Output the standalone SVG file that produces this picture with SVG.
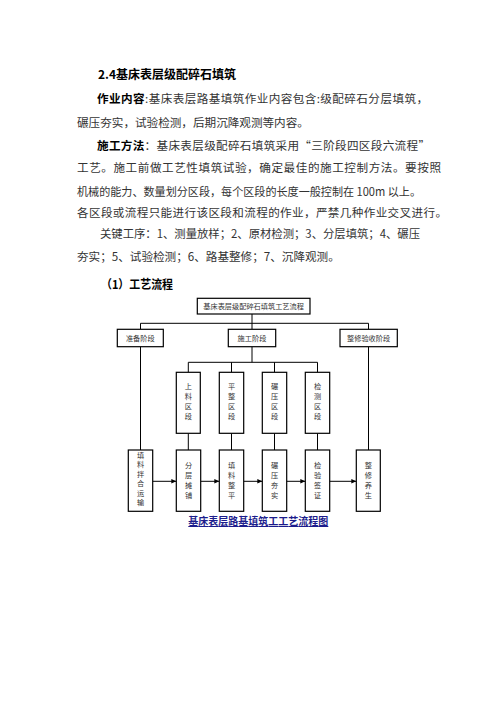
<svg xmlns="http://www.w3.org/2000/svg" width="496" height="702" viewBox="0 0 496 702">
<style>
.body{font-family:"Noto Sans CJK SC","Liberation Serif",serif;font-size:11.6px;fill:#333}
.b{font-weight:bold;fill:#000}
.h{font-family:"Noto Sans CJK SC","Liberation Sans",sans-serif;font-weight:bold;font-size:12px;fill:#000}
.box{fill:#fff;stroke:#000;stroke-width:1.2}
.lbl{font-family:"Noto Sans CJK SC","Liberation Sans",sans-serif;font-size:7.2px;fill:#333;text-anchor:middle}
.conn line{stroke:#000;stroke-width:1}
.cap{font-family:"Noto Sans CJK SC","Liberation Sans",sans-serif;font-size:10px;font-weight:bold;fill:#1c1c8c;text-decoration:underline}
</style>
<defs>
<marker id="ah" markerWidth="6" markerHeight="6" refX="5" refY="3" orient="auto" markerUnits="userSpaceOnUse">
<path d="M0,0.8 L5,3 L0,5.2 Z" fill="#000"/>
</marker>
</defs>
<rect width="496" height="702" fill="#fff"/>
<g id="text">
<text class="h" x="98" y="79">2.4基床表层级配碎石填筑</text>
<text class="body" x="97" y="103" textLength="331" lengthAdjust="spacing"><tspan class="b">作业内容</tspan>:基床表层路基填筑作业内容包含:级配碎石分层填筑，</text>
<text class="body" x="77" y="126.5">碾压夯实，试验检测，后期沉降观测等内容。</text>
<text class="body" x="97" y="150" textLength="333" lengthAdjust="spacing"><tspan class="b">施工方法</tspan>：基床表层级配碎石填筑采用“三阶段四区段六流程”</text>
<text class="body" x="77" y="172" textLength="364" lengthAdjust="spacing">工艺。施工前做工艺性填筑试验，确定最佳的施工控制方法。要按照</text>
<text class="body" x="77" y="196" textLength="344" lengthAdjust="spacingAndGlyphs">机械的能力、数量划分区段，每个区段的长度一般控制在 100m 以上。</text>
<text class="body" x="77" y="216.5" textLength="370" lengthAdjust="spacing">各区段或流程只能进行该区段和流程的作业，严禁几种作业交叉进行。</text>
<text class="body" x="100" y="238" textLength="320" lengthAdjust="spacingAndGlyphs">关键工序：1、测量放样；2、原材检测；3、分层填筑；4、碾压</text>
<text class="body" x="77" y="261">夯实；5、试验检测；6、路基整修；7、沉降观测。</text>
<text class="h" x="101" y="289" textLength="72" lengthAdjust="spacingAndGlyphs">（1）工艺流程</text>
</g>
<g class="conn" id="connectors">
<line x1="252" y1="314" x2="252" y2="329.3"/>
<line x1="140.5" y1="323.3" x2="368.5" y2="323.3"/>
<line x1="140.5" y1="323.3" x2="140.5" y2="329.3"/>
<line x1="368.5" y1="323.3" x2="368.5" y2="329.3"/>
<line x1="140.5" y1="346.7" x2="140.5" y2="450"/>
<line x1="368.5" y1="346.7" x2="368.5" y2="450"/>
<line x1="252" y1="346.7" x2="252" y2="362.3"/>
<line x1="188.3" y1="362.3" x2="317.5" y2="362.3"/>
<line x1="188.3" y1="362.3" x2="188.3" y2="372.3"/>
<line x1="231.5" y1="362.3" x2="231.5" y2="372.3"/>
<line x1="274.5" y1="362.3" x2="274.5" y2="372.3"/>
<line x1="317.5" y1="362.3" x2="317.5" y2="372.3"/>
<line x1="188.3" y1="433.3" x2="188.3" y2="450"/>
<line x1="231.5" y1="433.3" x2="231.5" y2="450"/>
<line x1="274.5" y1="433.3" x2="274.5" y2="450"/>
<line x1="317.5" y1="433.3" x2="317.5" y2="450"/>
<line x1="152.7" y1="481.3" x2="176.3" y2="481.3" marker-end="url(#ah)"/>
<line x1="200.7" y1="481.3" x2="219.3" y2="481.3" marker-end="url(#ah)"/>
<line x1="243.7" y1="481.3" x2="262.3" y2="481.3" marker-end="url(#ah)"/>
<line x1="286.7" y1="481.3" x2="305.3" y2="481.3" marker-end="url(#ah)"/>
<line x1="329.7" y1="481.3" x2="356.3" y2="481.3" marker-end="url(#ah)"/>
</g>
<g id="n-root"><rect class="box" x="197.3" y="298.3" width="112.7" height="15.7"/><text class="lbl" x="253.6" y="308.8">基床表层级配碎石填筑工艺流程</text></g>
<g id="n-prep"><rect class="box" x="117.3" y="329.3" width="46" height="17.4"/><text class="lbl" x="140.3" y="340.6">准备阶段</text></g>
<g id="n-build"><rect class="box" x="228.3" y="329.3" width="47.4" height="17.4"/><text class="lbl" x="252" y="340.6">施工阶段</text></g>
<g id="n-finish"><rect class="box" x="340" y="329.3" width="57.3" height="17.4"/><text class="lbl" x="368.6" y="340.6">整修验收阶段</text></g>
<g id="n-z1"><rect class="box" x="176.3" y="372.3" width="24" height="61"/><text class="lbl" x="188.3"><tspan x="188.3" y="389.3">上</tspan><tspan x="188.3" y="399.1">料</tspan><tspan x="188.3" y="408.9">区</tspan><tspan x="188.3" y="418.7">段</tspan></text></g>
<g id="n-z2"><rect class="box" x="219.3" y="372.3" width="24.4" height="61"/><text class="lbl" x="231.5"><tspan x="231.5" y="389.3">平</tspan><tspan x="231.5" y="399.1">整</tspan><tspan x="231.5" y="408.9">区</tspan><tspan x="231.5" y="418.7">段</tspan></text></g>
<g id="n-z3"><rect class="box" x="262.3" y="372.3" width="24.4" height="61"/><text class="lbl" x="274.5"><tspan x="274.5" y="389.3">碾</tspan><tspan x="274.5" y="399.1">压</tspan><tspan x="274.5" y="408.9">区</tspan><tspan x="274.5" y="418.7">段</tspan></text></g>
<g id="n-z4"><rect class="box" x="305.3" y="372.3" width="24.4" height="61"/><text class="lbl" x="317.5"><tspan x="317.5" y="389.3">检</tspan><tspan x="317.5" y="399.1">测</tspan><tspan x="317.5" y="408.9">区</tspan><tspan x="317.5" y="418.7">段</tspan></text></g>
<g id="n-s1"><rect class="box" x="128.3" y="450" width="24.4" height="61.3"/><text class="lbl" x="140.5"><tspan x="140.5" y="458">填</tspan><tspan x="140.5" y="467.4">料</tspan><tspan x="140.5" y="476.8">拌</tspan><tspan x="140.5" y="486.2">合</tspan><tspan x="140.5" y="495.6">运</tspan><tspan x="140.5" y="505">输</tspan></text></g>
<g id="n-s2"><rect class="box" x="176.3" y="450" width="24.4" height="61.3"/><text class="lbl" x="188.5"><tspan x="188.5" y="467.8">分</tspan><tspan x="188.5" y="477.8">层</tspan><tspan x="188.5" y="487.8">摊</tspan><tspan x="188.5" y="497.8">铺</tspan></text></g>
<g id="n-s3"><rect class="box" x="219.3" y="450" width="24.4" height="61.3"/><text class="lbl" x="231.5"><tspan x="231.5" y="467.8">填</tspan><tspan x="231.5" y="477.8">料</tspan><tspan x="231.5" y="487.8">整</tspan><tspan x="231.5" y="497.8">平</tspan></text></g>
<g id="n-s4"><rect class="box" x="262.3" y="450" width="24.4" height="61.3"/><text class="lbl" x="274.5"><tspan x="274.5" y="467.8">碾</tspan><tspan x="274.5" y="477.8">压</tspan><tspan x="274.5" y="487.8">夯</tspan><tspan x="274.5" y="497.8">实</tspan></text></g>
<g id="n-s5"><rect class="box" x="305.3" y="450" width="24.4" height="61.3"/><text class="lbl" x="317.5"><tspan x="317.5" y="467.8">检</tspan><tspan x="317.5" y="477.8">验</tspan><tspan x="317.5" y="487.8">签</tspan><tspan x="317.5" y="497.8">证</tspan></text></g>
<g id="n-s6"><rect class="box" x="356.3" y="450" width="24" height="61.3"/><text class="lbl" x="368.3"><tspan x="368.3" y="467.8">整</tspan><tspan x="368.3" y="477.8">修</tspan><tspan x="368.3" y="487.8">养</tspan><tspan x="368.3" y="497.8">生</tspan></text></g>
<g id="caption"><text class="cap" x="188.3" y="525" textLength="140" lengthAdjust="spacing">基床表层路基填筑工工艺流程图</text></g>
</svg>
